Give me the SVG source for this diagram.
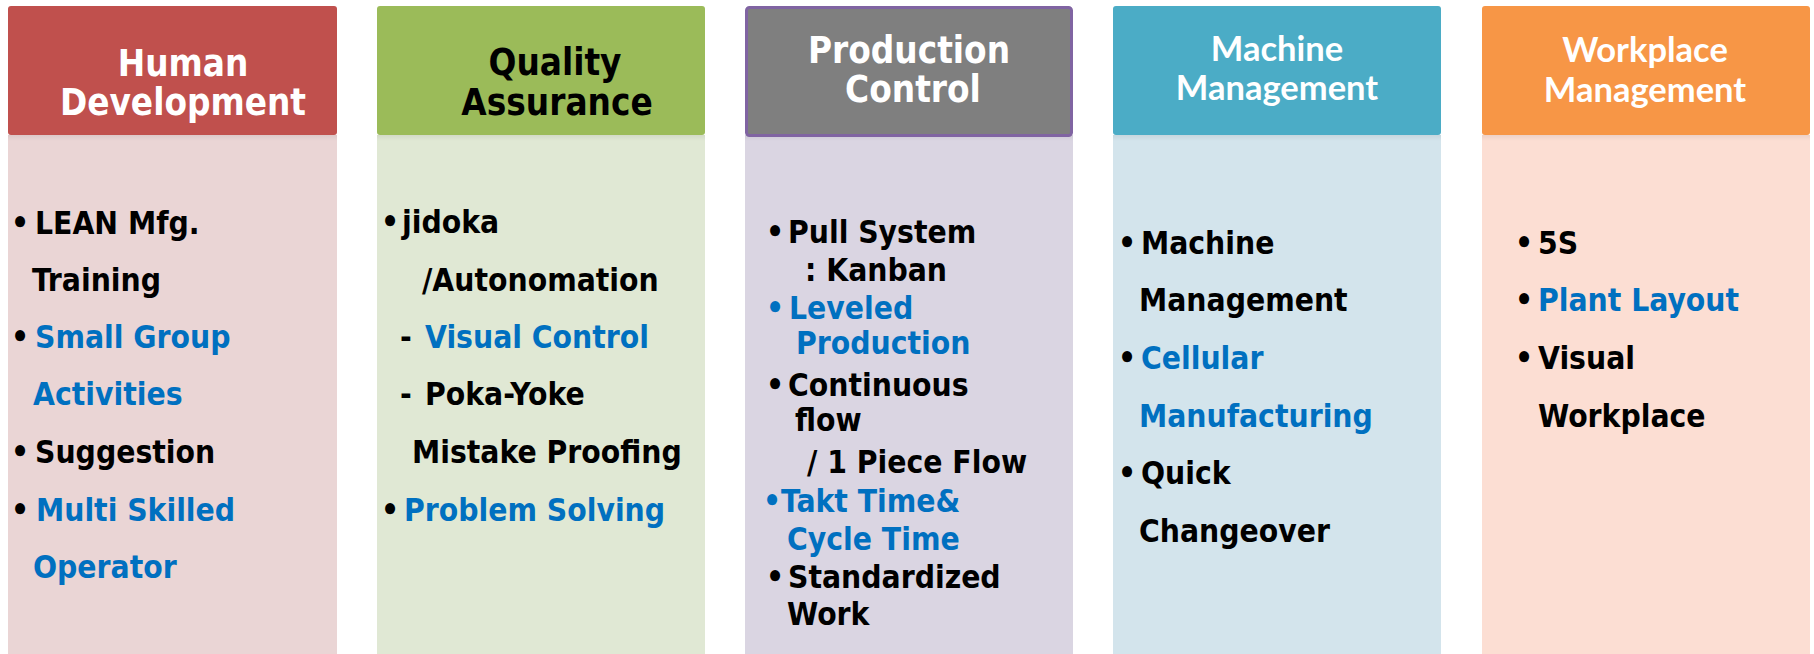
<svg xmlns="http://www.w3.org/2000/svg" width="1814" height="654" viewBox="0 0 1814 654">
<style>
.hd{font-family:"DejaVu Sans",sans-serif;font-weight:bold;font-stretch:condensed;font-size:36.5px;text-anchor:middle}
.hl{font-family:Lato,"Open Sans",sans-serif;font-weight:bold;font-size:34.5px;text-anchor:middle;fill:#fff}
.it{font-family:"DejaVu Sans",sans-serif;font-weight:bold;font-stretch:condensed;font-size:31.5px;fill:#000}
.b{fill:#0070C0}
.w{fill:#fff}
.k{fill:#000}
</style>
<defs>
<linearGradient id="sh" x1="0" y1="0" x2="0" y2="1">
<stop offset="0" stop-color="#000" stop-opacity="0.06"/>
<stop offset="1" stop-color="#000" stop-opacity="0"/>
</linearGradient>
</defs>
<rect width="1814" height="654" fill="#fff"/>

<g id="human-development">
<rect x="8" y="135" width="329" height="519" fill="#EAD5D5"/>
<rect x="8" y="135" width="329" height="6" fill="url(#sh)"/>
<rect x="8" y="6" width="329" height="129" rx="3" fill="#C0504D"/>
<text class="hd w" x="183" y="76">Human</text>
<text class="hd w" x="183" y="115">Development</text>
<text class="it" y="234"><tspan x="11">•</tspan><tspan x="35">LEAN Mfg.</tspan></text>
<text class="it" x="32" y="291">Training</text>
<text class="it" y="348"><tspan x="11">•</tspan><tspan x="35" class="b">Small Group</tspan></text>
<text class="it b" x="33" y="405">Activities</text>
<text class="it" y="463"><tspan x="11">•</tspan><tspan x="35">Suggestion</tspan></text>
<text class="it" y="521"><tspan x="11">•</tspan><tspan x="36" class="b">Multi Skilled</tspan></text>
<text class="it b" x="33" y="578">Operator</text>
</g>

<g id="quality-assurance">
<rect x="377" y="135" width="328" height="519" fill="#E0E8D4"/>
<rect x="377" y="135" width="328" height="6" fill="url(#sh)"/>
<rect x="377" y="6" width="328" height="129" rx="3" fill="#9BBB59"/>
<text class="hd k" x="555" y="75">Quality</text>
<text class="hd k" x="557" y="115">Assurance</text>
<text class="it" y="233"><tspan x="381">•</tspan><tspan x="402">jidoka</tspan></text>
<text class="it" x="422" y="291">/Autonomation</text>
<text class="it" y="348"><tspan x="400">-</tspan><tspan x="425" class="b">Visual Control</tspan></text>
<text class="it" y="405"><tspan x="400">-</tspan><tspan x="425">Poka-Yoke</tspan></text>
<text class="it" x="412" y="463">Mistake Proofing</text>
<text class="it" y="521"><tspan x="381">•</tspan><tspan x="404" class="b">Problem Solving</tspan></text>
</g>

<g id="production-control">
<rect x="745" y="135" width="328" height="519" fill="#DAD5E2"/>
<rect x="745" y="135" width="328" height="6" fill="url(#sh)"/>
<rect x="746.5" y="7.5" width="325" height="128" rx="3" fill="#7F7F7F" stroke="#8064A2" stroke-width="3"/>
<text class="hd w" x="909" y="63">Production</text>
<text class="hd w" x="913" y="102">Control</text>
<text class="it" y="243"><tspan x="766">•</tspan><tspan x="788">Pull System</tspan></text>
<text class="it" x="805" y="281">: Kanban</text>
<text class="it b" y="319"><tspan x="766">•</tspan><tspan x="789">Leveled</tspan></text>
<text class="it b" x="796" y="354">Production</text>
<text class="it" y="396"><tspan x="766">•</tspan><tspan x="788">Continuous</tspan></text>
<text class="it" x="795" y="431">flow</text>
<text class="it" x="807" y="473">/ 1 Piece Flow</text>
<text class="it b" x="763" y="512">•Takt Time&amp;</text>
<text class="it b" x="787" y="550">Cycle Time</text>
<text class="it" y="588"><tspan x="766">•</tspan><tspan x="788">Standardized</tspan></text>
<text class="it" x="787" y="625">Work</text>
</g>

<g id="machine-management">
<rect x="1113" y="135" width="328" height="519" fill="#D3E4EC"/>
<rect x="1113" y="135" width="328" height="6" fill="url(#sh)"/>
<rect x="1113" y="6" width="328" height="129" rx="3" fill="#4BACC6"/>
<text class="hl" x="1277" y="61">Machine</text>
<text class="hl" x="1277" y="100">Management</text>
<text class="it" y="254"><tspan x="1118">•</tspan><tspan x="1141">Machine</tspan></text>
<text class="it" x="1139" y="311">Management</text>
<text class="it" y="369"><tspan x="1118">•</tspan><tspan x="1141" class="b">Cellular</tspan></text>
<text class="it b" x="1139" y="427">Manufacturing</text>
<text class="it" y="484"><tspan x="1118">•</tspan><tspan x="1141">Quick</tspan></text>
<text class="it" x="1139" y="542">Changeover</text>
</g>

<g id="workplace-management">
<rect x="1482" y="135" width="328" height="519" fill="#FCDED3"/>
<rect x="1482" y="135" width="328" height="6" fill="url(#sh)"/>
<rect x="1482" y="6" width="328" height="129" rx="3" fill="#F79646"/>
<text class="hl" x="1645" y="62">Workplace</text>
<text class="hl" x="1645" y="102">Management</text>
<text class="it" y="254"><tspan x="1515">•</tspan><tspan x="1538">5S</tspan></text>
<text class="it" y="311"><tspan x="1515">•</tspan><tspan x="1538" class="b">Plant Layout</tspan></text>
<text class="it" y="369"><tspan x="1515">•</tspan><tspan x="1538">Visual</tspan></text>
<text class="it" x="1538" y="427">Workplace</text>
</g>
</svg>
